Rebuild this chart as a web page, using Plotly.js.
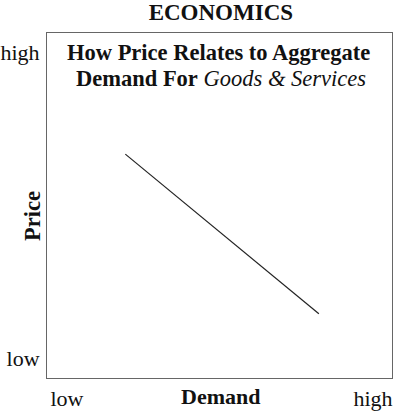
<!DOCTYPE html>
<html><head><meta charset="utf-8">
<script src="https://cdn.plot.ly/plotly-3.0.1.min.js"></script>
<style>body{margin:0;background:#fff}#c{width:398px;height:414px}</style>
</head><body><div id="c"></div>
<script>
const demand = [0.227, 0.788];
const price = [0.649, 0.186];
const xTickVals = [0.058, 0.945];
const xTickText = ["low", "high"];
const yTickVals = [0.058, 0.945];
const yTickText = ["low", "high"];
const F = "Liberation Serif";
const data = [{x: demand, y: price, type: "scatter", mode: "lines",
  line: {color: "#222", width: 1.2}, hoverinfo: "skip"}];
const layout = {
  width: 398, height: 414,
  margin: {l: 47, r: 6, t: 33, b: 36},
  paper_bgcolor: "#fff", plot_bgcolor: "#fff",
  showlegend: false,
  font: {family: F, color: "#111"},
  title: {text: "<b>ECONOMICS</b>", font: {family: F, size: 23, color: "#111"}, x: 0.555, xanchor: "center", y: 0.972, yanchor: "middle"},
  xaxis: {range: [0, 1], showgrid: false, zeroline: false, showline: true, mirror: true, linecolor: "#666", linewidth: 1,
    tickvals: xTickVals, ticktext: xTickText, ticks: "", ticklabelstandoff: 1,
    tickfont: {family: F, size: 22, color: "#111"}, fixedrange: true},
  yaxis: {range: [0, 1], showgrid: false, zeroline: false, showline: true, mirror: true, linecolor: "#666", linewidth: 1,
    tickvals: yTickVals, ticktext: yTickText, ticks: "", ticklabelstandoff: 2,
    tickfont: {family: F, size: 22, color: "#111"}, fixedrange: true},
  annotations: [
    {text: "<b>Demand</b>", xref: "paper", yref: "paper", x: 0.503, y: -0.055, xanchor: "center", yanchor: "middle", showarrow: false, font: {family: F, size: 22, color: "#111"}},
    {text: "<b>Price</b>", xref: "paper", yref: "paper", x: -0.04, y: 0.47, xanchor: "center", yanchor: "middle", textangle: -90, showarrow: false, font: {family: F, size: 22.5, color: "#111"}},
    {text: "<b>How Price Relates to Aggregate</b>", xref: "paper", yref: "paper", x: 0.497, y: 0.943, xanchor: "center", yanchor: "middle", showarrow: false, font: {family: F, size: 22.5, color: "#111"}},
    {text: "<b>Demand For</b> <i>Goods & Services</i>", xref: "paper", yref: "paper", x: 0.503, y: 0.868, xanchor: "center", yanchor: "middle", showarrow: false, font: {family: F, size: 22.5, color: "#111"}}
  ]
};
Plotly.newPlot("c", data, layout, {displayModeBar: false, staticPlot: true});
</script></body></html>
